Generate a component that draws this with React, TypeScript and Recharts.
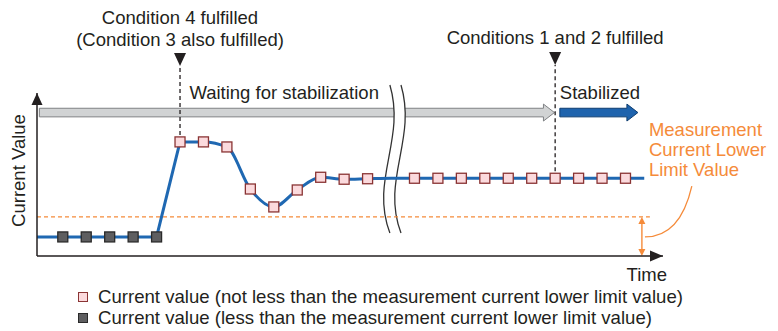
import React from 'react';
import {
  ComposedChart,
  Line,
  XAxis,
  YAxis,
  ReferenceLine,
  ReferenceDot,
  ReferenceArea,
} from 'recharts';

const FONT = '"Liberation Sans", Arial, Helvetica, sans-serif';
const INK = '#231f20';
const ORANGE = '#f58b3a';
const BLUE = '#1f68b2';
const FS = 18.5;

// ---- axes (sample index on time axis, arbitrary current units) ----
const T_MIN = -0.1;
const T_MAX = 26.6;
const V_MIN = 0;
const V_MAX = 100;

// ---- data ----
const LOW_TIMES = [1, 2, 3, 4, 5];
const LOW_VALUES = [11.7, 11.7, 11.7, 11.7, 11.7];
const HIGH_TIMES = [6, 7, 8, 9, 10, 11, 12, 13, 14, 16, 17, 18, 19, 20, 21, 22, 23, 24, 25];
const HIGH_VALUES = [70, 70, 66.9, 41.1, 30.1, 40.5, 48.3, 47.1, 47.4, 47.7, 47.7, 47.7, 47.7, 47.7, 47.7, 47.7, 47.7, 47.7, 47.7];
const LINE_START = -0.1;
const LINE_END = 25.8;
const BREAK_TIME = 15;
const BREAK_VALUE = 47.7;
const LOWER_LIMIT = 24;
const COND4_TIME = 6;
const COND12_TIME = 22;

// ---- labels ----
const COND4_LABELS = ['Condition 4 fulfilled', '(Condition 3 also fulfilled)'];
const COND12_LABEL = 'Conditions 1 and 2 fulfilled';
const WAITING_LABEL = 'Waiting for stabilization';
const STABLE_LABEL = 'Stabilized';
const LIMIT_LABELS = ['Measurement', 'Current Lower', 'Limit Value'];
const Y_TITLE = 'Current Value';
const X_TITLE = 'Time';
const LEGEND_HIGH = 'Current value (not less than the measurement current lower limit value)';
const LEGEND_LOW = 'Current value (less than the measurement current lower limit value)';

type Pt = { t: number; v: number; mark?: boolean };

const lowData: Pt[] = [
  { t: LINE_START, v: LOW_VALUES[0] },
  ...LOW_TIMES.map((t, i) => ({ t, v: LOW_VALUES[i], mark: true })),
  { t: HIGH_TIMES[0], v: HIGH_VALUES[0] },
];

const highData: Pt[] = [
  ...HIGH_TIMES.map((t, i) => ({ t, v: HIGH_VALUES[i], mark: true })),
  { t: BREAK_TIME, v: BREAK_VALUE },
  { t: LINE_END, v: HIGH_VALUES[HIGH_VALUES.length - 1] },
].sort((a, b) => a.t - b.t);

const HIGH_FILL = '#fbdadd';
const HIGH_STROKE = '#8a3434';
const LOW_FILL = '#5e5e60';
const LOW_STROKE = '#2a2a2a';

const squareDot = (fill: string, stroke: string) => (p: any) =>
  p.payload && p.payload.mark ? (
    <rect
      key={`sq-${p.index}`}
      x={p.cx - 5}
      y={p.cy - 5}
      width={10}
      height={10}
      fill={fill}
      stroke={stroke}
      strokeWidth={1.3}
    />
  ) : (
    <g key={`sq-${p.index}`} />
  );

const arrowShape = (fill: string, stroke: string) => (p: any) => {
  const { x, y, width, height } = p;
  const cy = y + height / 2;
  const head = 11;
  const body = 4.3;
  const hh = height / 2;
  const xe = x + width;
  const xb = xe - head;
  return (
    <path
      d={`M${x},${cy - body} L${xb},${cy - body} L${xb},${cy - hh} L${xe},${cy} L${xb},${cy + hh} L${xb},${cy + body} L${x},${cy + body} Z`}
      fill={fill}
      stroke={stroke}
      strokeWidth={1}
    />
  );
};

const breakShape = (p: any) => {
  const { x, y, width, height } = p;
  const s = width / 23;
  const X = (d: number) => x + d * s;
  const y1 = y + 0.37 * height;
  const y2 = y + 0.64 * height;
  const yb = y + height;
  const left = `M${X(7)},${y} C${X(23)},${y1} ${X(-13)},${y2} ${X(7)},${yb}`;
  const right = `M${X(18)},${y} C${X(34)},${y1} ${X(-2)},${y2} ${X(18)},${yb}`;
  const fill = `M${X(7)},${y} C${X(23)},${y1} ${X(-13)},${y2} ${X(7)},${yb} L${X(18)},${yb} C${X(-2)},${y2} ${X(34)},${y1} ${X(18)},${y} Z`;
  return (
    <g>
      <path d={fill} fill="#ffffff" stroke="none" />
      <path d={left} fill="none" stroke="#333" strokeWidth={1.3} />
      <path d={right} fill="none" stroke="#333" strokeWidth={1.3} />
    </g>
  );
};

const downTriangle = (p: any) => (
  <path d={`M${p.cx},${p.cy} L${p.cx - 6},${p.cy - 13} L${p.cx + 6},${p.cy - 13} Z`} fill={INK} />
);
const upTriangle = (p: any) => (
  <path d={`M${p.cx},${p.cy} L${p.cx - 5.5},${p.cy + 12} L${p.cx + 5.5},${p.cy + 12} Z`} fill={INK} />
);
const rightTriangle = (p: any) => (
  <path d={`M${p.cx},${p.cy} L${p.cx - 13},${p.cy - 5.5} L${p.cx - 13},${p.cy + 5.5} Z`} fill={INK} />
);

const textShape = (lines: string[], anchor: 'start' | 'middle' | 'end', color: string, lh = 22) => (p: any) => (
  <text x={p.cx} y={p.cy} textAnchor={anchor} fill={color} fontFamily={FONT} fontSize={FS}>
    {lines.map((l, i) => (
      <tspan key={i} x={p.cx} dy={i === 0 ? 0 : lh}>
        {l}
      </tspan>
    ))}
  </text>
);

const doubleArrow = (p: any) => {
  const { x1, y1, x2, y2 } = p;
  return (
    <g>
      <line x1={x1} y1={y1 + 2} x2={x2} y2={y2 - 2} stroke={ORANGE} strokeWidth={1.4} />
      <path d={`M${x1},${y1} L${x1 - 3.5},${y1 + 7} L${x1 + 3.5},${y1 + 7} Z`} fill={ORANGE} />
      <path d={`M${x2},${y2} L${x2 - 3.5},${y2 - 7} L${x2 + 3.5},${y2 - 7} Z`} fill={ORANGE} />
    </g>
  );
};

const calloutCurve = (p: any) => {
  const { x1, y1, x2, y2 } = p;
  const cx = x1 - 0.25 * (x1 - x2);
  const cy = y2;
  return <path d={`M${x1},${y1} Q${cx},${cy} ${x2},${y2}`} fill="none" stroke={ORANGE} strokeWidth={1.3} />;
};

const yTitle = (props: any) => {
  const vb = props.viewBox || {};
  const x = vb.x - 11;
  const y = vb.y + vb.height / 2 - 4;
  return (
    <text x={x} y={y} transform={`rotate(-90, ${x}, ${y})`} textAnchor="middle" fill={INK} fontFamily={FONT} fontSize={FS}>
      {Y_TITLE}
    </text>
  );
};

const xTitle = (props: any) => {
  const vb = props.viewBox || {};
  return (
    <text x={vb.x + vb.width + 4} y={vb.y + 25} textAnchor="end" fill={INK} fontFamily={FONT} fontSize={FS}>
      {X_TITLE}
    </text>
  );
};

const LegendRow = ({ fill, stroke, label }: { fill: string; stroke: string; label: string }) => (
  <div style={{ display: 'flex', alignItems: 'center', height: 21 }}>
    <div style={{ width: 8, height: 8, background: fill, border: `1px solid ${stroke}`, marginRight: 10 }} />
    <span style={{ fontFamily: FONT, fontSize: 18.6, color: INK, whiteSpace: 'nowrap' }}>{label}</span>
  </div>
);

export default function App() {
  return (
    <div style={{ position: 'absolute', left: 0, top: 0, width: 778, height: 331, background: '#fff' }}>
      <ComposedChart width={778} height={331} margin={{ top: 93, right: 115, bottom: 74, left: 36 }}>
        <XAxis
          type="number"
          dataKey="t"
          domain={[T_MIN, T_MAX]}
          allowDataOverflow
          height={1}
          tick={false}
          tickLine={false}
          axisLine={{ stroke: INK, strokeWidth: 1.5 }}
          label={{ content: xTitle }}
        />
        <YAxis
          type="number"
          dataKey="v"
          domain={[V_MIN, V_MAX]}
          allowDataOverflow
          width={1}
          tick={false}
          tickLine={false}
          axisLine={{ stroke: INK, strokeWidth: 1.5 }}
          label={{ content: yTitle }}
        />

        {/* progress arrows */}
        <ReferenceArea x1={0} x2={COND12_TIME - 0.03} y1={82.8} y2={93.2} ifOverflow="visible" shape={arrowShape('#d1d3d4', '#7f8184')} />
        <ReferenceArea x1={COND12_TIME + 0.2} x2={25.53} y1={82.8} y2={93.2} ifOverflow="visible" shape={arrowShape('#1e63ad', '#0e3d70')} />

        {/* lower limit */}
        <ReferenceLine
          segment={[{ x: T_MIN, y: LOWER_LIMIT }, { x: 26.04, y: LOWER_LIMIT }]}
          stroke={ORANGE}
          strokeWidth={1.3}
          strokeDasharray="4 3"
          ifOverflow="visible"
        />

        {/* condition markers */}
        <ReferenceLine
          segment={[{ x: COND4_TIME, y: HIGH_VALUES[0] }, { x: COND4_TIME, y: 116.6 }]}
          stroke={INK}
          strokeWidth={1.3}
          strokeDasharray="4 3"
          ifOverflow="visible"
        />
        <ReferenceLine
          segment={[{ x: COND12_TIME, y: 47.7 }, { x: COND12_TIME, y: 117.2 }]}
          stroke={INK}
          strokeWidth={1.3}
          strokeDasharray="4 3"
          ifOverflow="visible"
        />

        <Line
          data={lowData}
          dataKey="v"
          type="linear"
          stroke={BLUE}
          strokeWidth={3}
          dot={squareDot(LOW_FILL, LOW_STROKE)}
          activeDot={false}
          isAnimationActive={false}
        />
        <Line
          data={highData}
          dataKey="v"
          type="monotone"
          stroke={BLUE}
          strokeWidth={3}
          dot={squareDot(HIGH_FILL, HIGH_STROKE)}
          activeDot={false}
          isAnimationActive={false}
        />

        {/* axis break */}
        <ReferenceArea x1={14.65} x2={15.64} y1={14.1} y2={104.9} ifOverflow="visible" shape={breakShape} />

        {/* orange lower-limit annotation */}
        <ReferenceLine segment={[{ x: 25.7, y: LOWER_LIMIT }, { x: 25.7, y: V_MIN }]} ifOverflow="visible" shape={doubleArrow} />
        <ReferenceLine segment={[{ x: 27.83, y: 42.9 }, { x: 25.83, y: 11.7 }]} ifOverflow="visible" shape={calloutCurve} />
        <ReferenceDot x={26.0} y={73.6} r={0} ifOverflow="visible" shape={textShape(LIMIT_LABELS, 'start', ORANGE, 20)} />

        {/* triangles & texts */}
        <ReferenceDot x={COND4_TIME} y={116.6} r={0} ifOverflow="visible" shape={downTriangle} />
        <ReferenceDot x={COND12_TIME} y={117.2} r={0} ifOverflow="visible" shape={downTriangle} />
        <ReferenceDot x={COND4_TIME} y={142.3} r={0} ifOverflow="visible" shape={textShape(COND4_LABELS, 'middle', INK, 22)} />
        <ReferenceDot x={COND12_TIME} y={130.1} r={0} ifOverflow="visible" shape={textShape([COND12_LABEL], 'middle', INK)} />
        <ReferenceDot x={6.4} y={96.3} r={0} ifOverflow="visible" shape={textShape([WAITING_LABEL], 'start', INK)} />
        <ReferenceDot x={22.2} y={96.3} r={0} ifOverflow="visible" shape={textShape([STABLE_LABEL], 'start', INK)} />

        {/* axis arrowheads */}
        <ReferenceDot x={T_MIN} y={V_MAX} r={0} ifOverflow="visible" shape={upTriangle} />
        <ReferenceDot x={T_MAX} y={V_MIN} r={0} ifOverflow="visible" shape={rightTriangle} />
      </ComposedChart>
      <div style={{ position: 'absolute', left: 78, top: 286 }}>
        <LegendRow fill={HIGH_FILL} stroke={HIGH_STROKE} label={LEGEND_HIGH} />
        <LegendRow fill={LOW_FILL} stroke={LOW_STROKE} label={LEGEND_LOW} />
      </div>
    </div>
  );
}
